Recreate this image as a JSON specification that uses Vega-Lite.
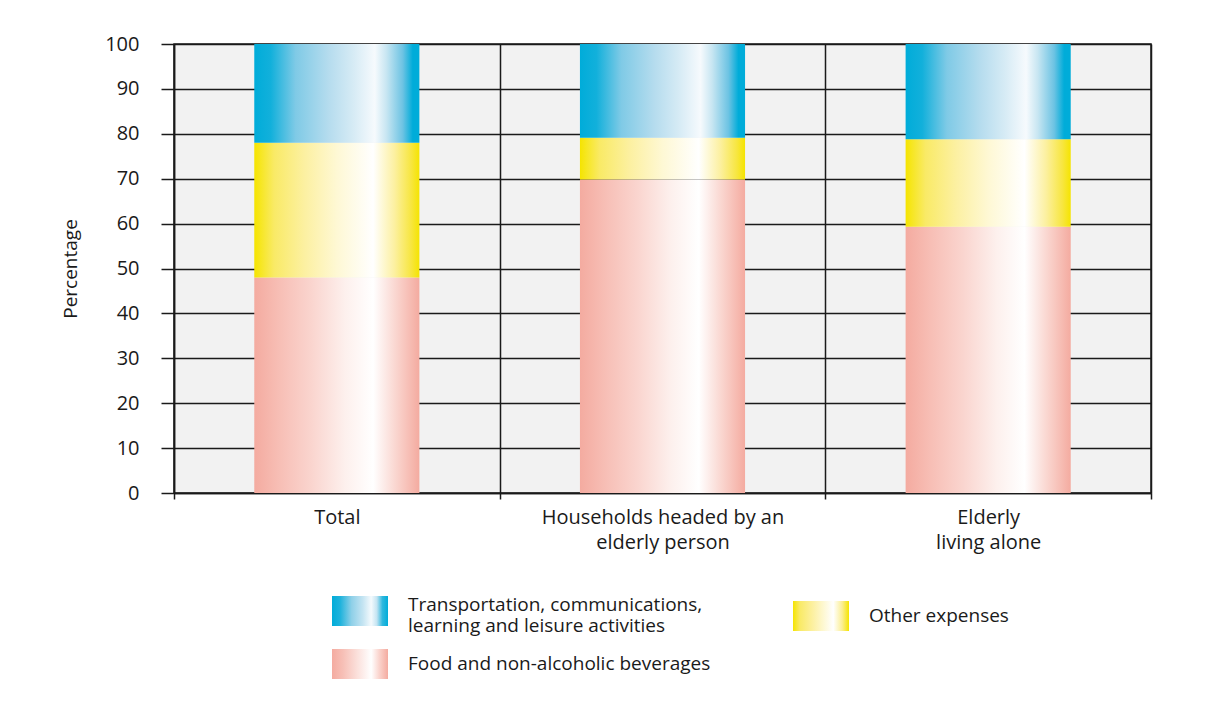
{
  "$schema": "https://vega.github.io/schema/vega-lite/v6.json",
  "autosize": {"type": "none"},
  "width": 977,
  "height": 449,
  "padding": {"left": 174, "top": 44, "right": 71, "bottom": 210},
  "background": "white",
  "config": {
    "font": "Open Sans",
    "view": {"fill": "#f2f2f2", "stroke": "#1a1a1a", "strokeWidth": 1.5},
    "axis": {"labelFont": "Open Sans", "titleFont": "Open Sans", "labelColor": "#1a1a1a", "titleColor": "#1a1a1a"}
  },
  "data": {
    "values": [
      {"group": "Total", "category": "Food and non-alcoholic beverages", "seq": 1, "pct": 48},
      {"group": "Total", "category": "Other expenses", "seq": 2, "pct": 30},
      {"group": "Total", "category": "Transportation, communications, learning and leisure activities", "seq": 3, "pct": 22},
      {"group": "Households headed by an elderly person", "category": "Food and non-alcoholic beverages", "seq": 1, "pct": 69.8},
      {"group": "Households headed by an elderly person", "category": "Other expenses", "seq": 2, "pct": 9.3},
      {"group": "Households headed by an elderly person", "category": "Transportation, communications, learning and leisure activities", "seq": 3, "pct": 20.9},
      {"group": "Elderly living alone", "category": "Food and non-alcoholic beverages", "seq": 1, "pct": 59.3},
      {"group": "Elderly living alone", "category": "Other expenses", "seq": 2, "pct": 19.5},
      {"group": "Elderly living alone", "category": "Transportation, communications, learning and leisure activities", "seq": 3, "pct": 21.2}
    ]
  },
  "transform": [
    {"stack": "pct", "groupby": ["group"], "sort": [{"field": "seq", "order": "ascending"}], "as": ["lo", "hi"]}
  ],
  "encoding": {
    "x": {
      "field": "group",
      "type": "nominal",
      "sort": ["Total", "Households headed by an elderly person", "Elderly living alone"],
      "scale": {"paddingInner": 0, "paddingOuter": 0},
      "axis": {
        "title": null,
        "labelAngle": 0,
        "labelFontSize": 20,
        "labelLimit": 0,
        "labelPadding": 8,
        "labelLineHeight": 25,
        "labelBaseline": "top",
        "labelExpr": "datum.label == 'Households headed by an elderly person' ? ['Households headed by an', 'elderly person'] : datum.label == 'Elderly living alone' ? ['Elderly', 'living alone'] : datum.label",
        "tickBand": "extent",
        "tickSize": 6,
        "tickColor": "#1a1a1a",
        "tickWidth": 1.5,
        "grid": true,
        "gridColor": "#1a1a1a",
        "gridWidth": 1.5,
        "gridOpacity": 1,
        "domainColor": "#1a1a1a",
        "domainWidth": 1.5
      }
    },
    "y": {
      "field": "lo",
      "type": "quantitative",
      "scale": {"domain": [0, 100], "nice": false},
      "axis": {
        "title": "Percentage",
        "titleFontSize": 19,
        "titleFontWeight": "normal",
        "titlePadding": 24,
        "values": [0, 10, 20, 30, 40, 50, 60, 70, 80, 90, 100],
        "labelFontSize": 20,
        "labelPadding": 22,
        "tickSize": 13,
        "tickColor": "#1a1a1a",
        "tickWidth": 1.5,
        "grid": true,
        "gridColor": "#1a1a1a",
        "gridWidth": 1.5,
        "gridOpacity": 1,
        "domainColor": "#1a1a1a",
        "domainWidth": 1.5
      }
    },
    "y2": {"field": "hi"}
  },
  "layer": [
    {
      "transform": [{"filter": "datum.seq == 1"}],
      "mark": {"type": "bar", "width": {"band": 0.507}, "strokeWidth": 0,
        "color": {"gradient": "linear", "x1": 0, "y1": 0, "x2": 1, "y2": 0, "stops": [
          {"offset": 0, "color": "#f4aba0"},
          {"offset": 0.15, "color": "#f7beb5"},
          {"offset": 0.35, "color": "#fad5cf"},
          {"offset": 0.55, "color": "#fdf0ed"},
          {"offset": 0.72, "color": "#ffffff"},
          {"offset": 0.85, "color": "#fad8d2"},
          {"offset": 1, "color": "#f4aba0"}
        ]}}
    },
    {
      "transform": [{"filter": "datum.seq == 2"}],
      "mark": {"type": "bar", "width": {"band": 0.507}, "strokeWidth": 0,
        "color": {"gradient": "linear", "x1": 0, "y1": 0, "x2": 1, "y2": 0, "stops": [
          {"offset": 0, "color": "#f5e400"},
          {"offset": 0.03, "color": "#f6e61a"},
          {"offset": 0.12, "color": "#f9ea66"},
          {"offset": 0.3, "color": "#fcf0a0"},
          {"offset": 0.5, "color": "#fef8d4"},
          {"offset": 0.72, "color": "#ffffff"},
          {"offset": 0.85, "color": "#fcf0a0"},
          {"offset": 0.95, "color": "#f7e640"},
          {"offset": 1, "color": "#f5e400"}
        ]}}
    },
    {
      "transform": [{"filter": "datum.seq == 3"}],
      "mark": {"type": "bar", "width": {"band": 0.507}, "strokeWidth": 0,
        "color": {"gradient": "linear", "x1": 0, "y1": 0, "x2": 1, "y2": 0, "stops": [
          {"offset": 0, "color": "#00acd9"},
          {"offset": 0.1, "color": "#12b0db"},
          {"offset": 0.25, "color": "#7fcae6"},
          {"offset": 0.45, "color": "#b5dcee"},
          {"offset": 0.6, "color": "#d6ebf5"},
          {"offset": 0.73, "color": "#f6fafd"},
          {"offset": 0.8, "color": "#c8e6f2"},
          {"offset": 0.9, "color": "#6cc3e3"},
          {"offset": 0.96, "color": "#00acd9"},
          {"offset": 1, "color": "#00acd9"}
        ]}}
    },
    {
      "mark": {"type": "point", "filled": true, "opacity": 0, "size": 1,
        "fill": {"expr": "datum.value == 'Other expenses' ? {gradient: 'linear', x1: 0, y1: 0, x2: 1, y2: 0, stops: [{offset: 0, color: '#f5e400'}, {offset: 0.12, color: '#f9ea66'}, {offset: 0.35, color: '#fcf0a0'}, {offset: 0.6, color: '#fefae0'}, {offset: 0.72, color: '#ffffff'}, {offset: 0.88, color: '#fbee90'}, {offset: 1, color: '#f5e400'}]} : datum.value == 'Food and non-alcoholic beverages' ? {gradient: 'linear', x1: 0, y1: 0, x2: 1, y2: 0, stops: [{offset: 0, color: '#f4aba0'}, {offset: 0.2, color: '#f7c0b7'}, {offset: 0.45, color: '#fbe0db'}, {offset: 0.7, color: '#ffffff'}, {offset: 0.85, color: '#fad2cb'}, {offset: 1, color: '#f4aba0'}]} : {gradient: 'linear', x1: 0, y1: 0, x2: 1, y2: 0, stops: [{offset: 0, color: '#00acd9'}, {offset: 0.15, color: '#20b3dc'}, {offset: 0.35, color: '#8fd0e8'}, {offset: 0.55, color: '#c4e4f2'}, {offset: 0.7, color: '#f4fafd'}, {offset: 0.8, color: '#c4e4f2'}, {offset: 0.9, color: '#30b8de'}, {offset: 1, color: '#00acd9'}]}"}},
      "encoding": {
        "y2": null,
        "shape": {
          "field": "category",
          "type": "nominal",
          "scale": {
            "domain": ["Transportation, communications, learning and leisure activities", "Other expenses", "Food and non-alcoholic beverages"],
            "range": ["M-1,-0.536H1V0.536H-1Z", "M-1,-0.536H1V0.536H-1Z", "M-1,-0.536H1V0.536H-1Z"]
          },
          "legend": {
            "title": null,
            "orient": "none",
            "legendX": 158,
            "legendY": 539,
            "direction": "horizontal",
            "columns": 2,
            "columnPadding": 82,
            "rowPadding": -1,
            "padding": 0,
            "symbolSize": 3136,
            "symbolStrokeWidth": 0,
            "symbolOpacity": 1,
            "labelFont": "Open Sans",
            "labelFontSize": 19,
            "labelColor": "#1a1a1a",
            "labelOffset": 20,
            "labelLimit": 0,
            "labelLineHeight": 21,
            "labelBaseline": {"expr": "datum.value == 'Transportation, communications, learning and leisure activities' ? 'alphabetic' : 'middle'"},
            "labelExpr": "datum.label == 'Transportation, communications, learning and leisure activities' ? ['Transportation, communications,', 'learning and leisure activities'] : datum.label"
          }
        }
      }
    }
  ]
}
